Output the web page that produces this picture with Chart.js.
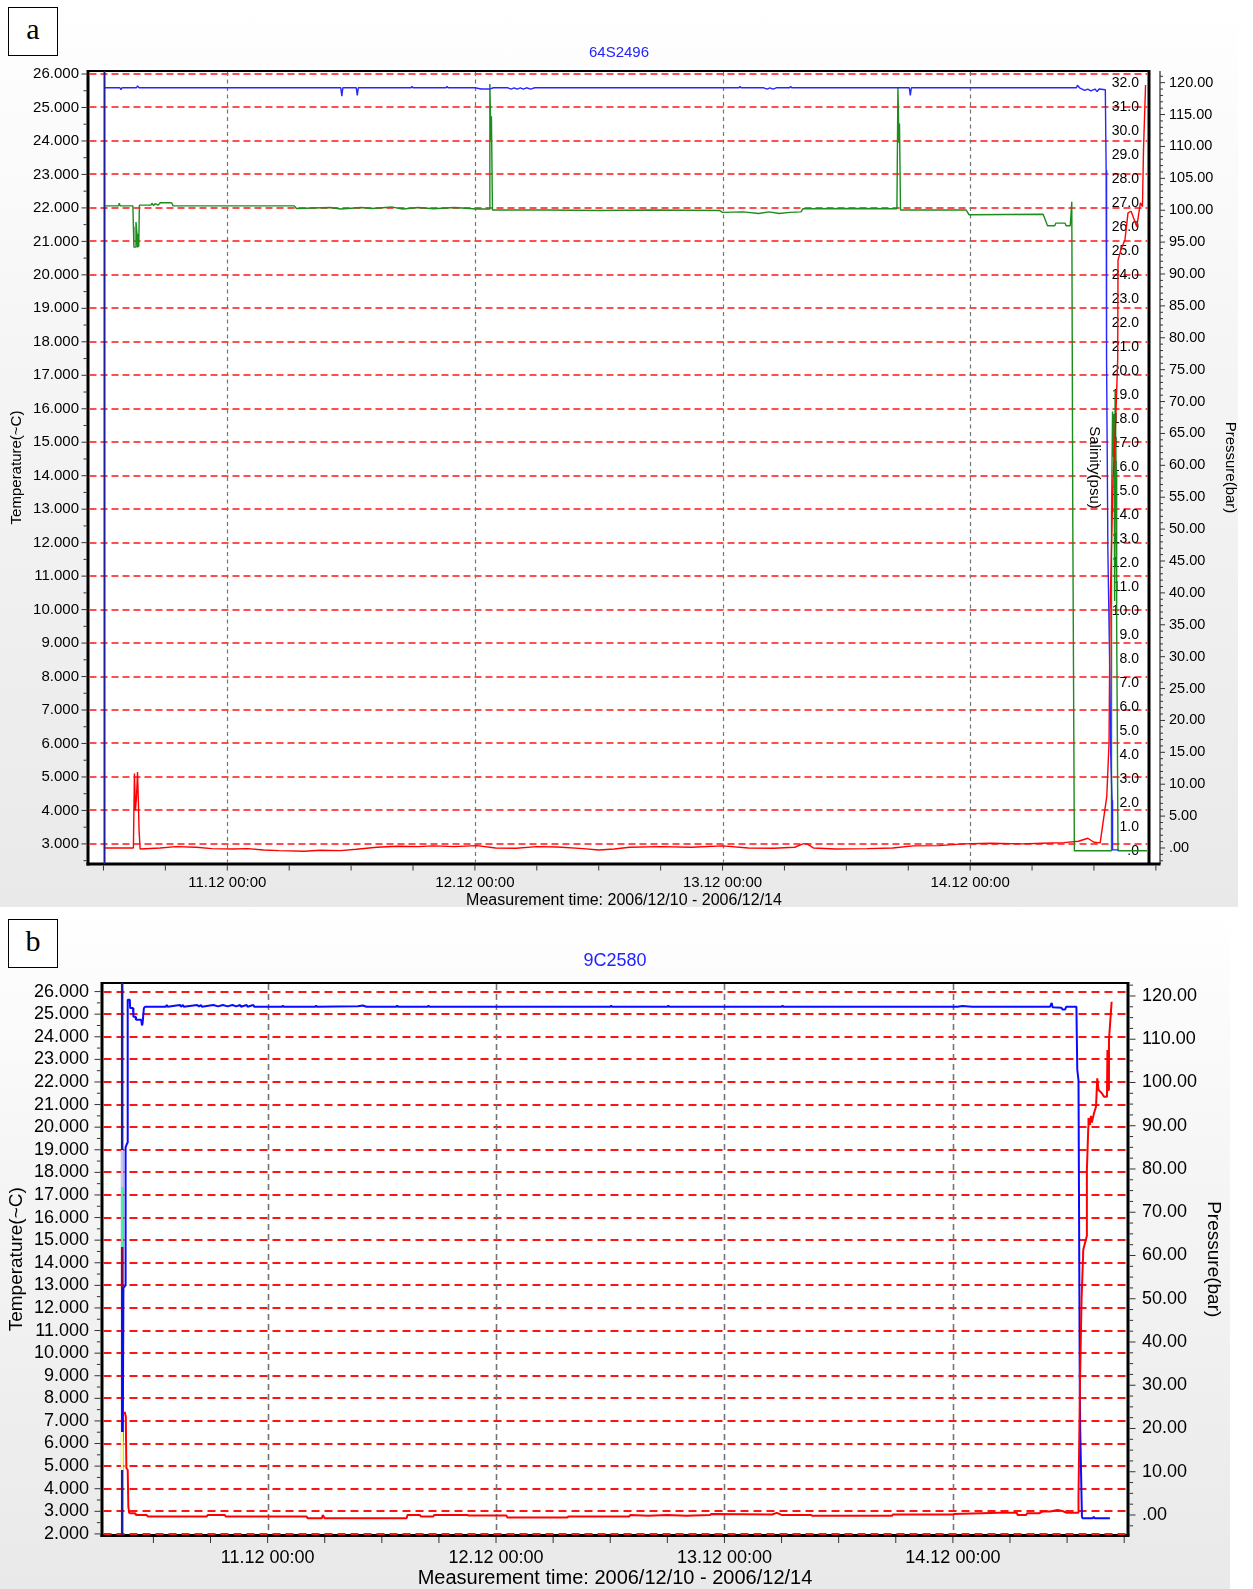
<!DOCTYPE html>
<html>
<head>
<meta charset="utf-8">
<title>64S2496 / 9C2580</title>
<script src="https://cdn.jsdelivr.net/npm/chart.js@4.4.1/dist/chart.umd.min.js"></script>
<style>
  html, body { margin: 0; padding: 0; background: #fff; }
  body { width: 1253px; height: 1589px; position: relative; overflow: hidden; }
  canvas { position: absolute; left: 0; background: linear-gradient(#ffffff 0%, #f5f5f5 40%, #e9e9e9 100%); }
  #chartA { top: 0; }
  #chartB { top: 907px; }
  .tag {
    position: absolute; left: 8px; width: 48px; height: 47px;
    border: 1.5px solid #000; background: #fff;
    font: 30px "Liberation Serif", "Times New Roman", serif;
    text-align: center; line-height: 42px;
  }
</style>
</head>
<body>
<canvas id="chartA" width="1238" height="907"></canvas>
<canvas id="chartB" width="1230" height="682"></canvas>
<div class="tag" style="top:7px">a</div>
<div class="tag" style="top:919px">b</div>
<script>
// time axis: hours counted from 10.12 00:00
const dayTicks = [24, 48, 72, 96];
const dayLabels = ['11.12 00:00', '12.12 00:00', '13.12 00:00', '14.12 00:00'];
const sixHourTicks = range(12, 114, 6);

// ---- logger 64S2496 : [hour, value] ----
const aStartHour = 12.1;
const aTemp = [
  [12.15, 2.88], [14.9, 2.88], [15.0, 5.1], [15.1, 4.0], [15.2, 4.4], [15.3, 5.15], [15.38, 4.3],
  [15.45, 3.4], [15.55, 2.85], [17.5, 2.88], [19, 2.92], [21, 2.9], [22.5, 2.86], [24.5, 2.85],
  [26, 2.86], [27.5, 2.82], [29, 2.8], [31.5, 2.78], [33, 2.81], [35, 2.8], [36.5, 2.84],
  [38.5, 2.9], [40.5, 2.93], [42.5, 2.92], [44, 2.94], [46, 2.92], [48.2, 2.95], [50, 2.88],
  [52, 2.87], [54, 2.92], [56, 2.91], [58.5, 2.86], [60, 2.82], [61.5, 2.85], [63, 2.9],
  [66, 2.92], [69, 2.9], [72, 2.94], [74.5, 2.88], [77, 2.87], [79, 2.9], [79.8, 3.0],
  [80.2, 3.0], [80.8, 2.88], [83, 2.85], [86, 2.86], [88.5, 2.88], [90.5, 2.94], [93, 2.95],
  [95.3, 3.0], [98, 3.02], [101, 3.0], [103, 3.02], [105.1, 3.04], [106.5, 3.08], [107.4, 3.17],
  [108, 3.05], [108.6, 3.03], [109.24, 4.41], [109.46, 6.02], [109.56, 9.99], [109.85, 13.93],
  [110.05, 15.16], [110.3, 17.46], [110.33, 20.44], [110.6, 20.74], [111.0, 21.04], [111.3, 21.85],
  [111.6, 21.9], [112.15, 21.44], [112.5, 22.15], [112.7, 22.04], [112.8, 23.73], [113.0, 25.67]
];
const aPres = [
  [12.15, 119.2], [13.6, 119.2], [13.7, 118.9], [13.8, 119.2], [15.2, 119.2], [15.3, 119.5],
  [15.45, 119.2], [35.0, 119.2], [35.1, 117.9], [35.2, 119.2], [36.5, 119.2], [36.6, 118.0],
  [36.7, 119.2], [41.8, 119.2], [41.9, 119.4], [42.0, 119.2], [45.2, 119.2], [45.3, 119.4],
  [45.4, 119.2], [48.0, 119.2], [48.6, 119.0], [49.4, 119.0], [49.8, 119.2], [51.2, 119.2],
  [51.5, 119.0], [51.8, 119.2], [52.1, 119.0], [52.4, 119.2], [52.7, 119.0], [53.0, 119.2],
  [53.4, 119.0], [53.8, 119.2], [73.6, 119.2], [73.7, 119.4], [73.8, 119.2], [76.0, 119.2],
  [76.3, 119.0], [76.6, 119.2], [76.9, 119.0], [77.2, 119.2], [78.5, 119.2], [78.6, 119.4],
  [78.7, 119.2], [90.1, 119.2], [90.2, 118.0], [90.3, 119.2], [106.3, 119.2], [106.4, 119.6],
  [106.6, 119.2], [107.1, 118.8], [107.4, 119.0], [107.7, 118.7], [108.1, 119.0], [108.3, 118.6],
  [108.5, 119.0], [109.1, 118.9], [109.18, 106.3], [109.22, 77], [109.35, 46.4], [109.55, 26],
  [109.62, 15], [109.75, 7.5], [109.8, -0.3], [110.4, -0.3]
];
const aSal = [
  [12.15, 26.87], [13.45, 26.87], [13.53, 26.98], [13.62, 26.87], [14.85, 26.87], [14.9, 26.0],
  [14.95, 25.15], [15.1, 25.15], [15.15, 26.2], [15.25, 25.7], [15.3, 25.15], [15.42, 25.2],
  [15.48, 26.9], [16.6, 26.9], [16.7, 26.98], [16.85, 26.88], [17.0, 26.96], [17.3, 26.9],
  [17.5, 27.0], [18.6, 27.0], [18.75, 26.87], [30.5, 26.87], [30.7, 26.76], [34, 26.8],
  [35, 26.74], [37, 26.8], [38, 26.76], [40, 26.82], [41, 26.74], [42.5, 26.8], [44, 26.75],
  [46, 26.8], [48.2, 26.74], [49.4, 26.74], [49.45, 31.95], [49.55, 29.6], [49.6, 30.6],
  [49.7, 26.7], [55, 26.7], [60, 26.68], [65, 26.7], [71.7, 26.68], [72, 26.6], [74, 26.62],
  [75.5, 26.55], [76.5, 26.62], [77.5, 26.55], [78.5, 26.6], [79.6, 26.62], [79.8, 26.75],
  [85, 26.76], [88.9, 26.75], [89.0, 31.8], [89.1, 29.5], [89.15, 30.3], [89.25, 26.7],
  [95.6, 26.7], [95.9, 26.5], [103.07, 26.52], [103.5, 26.04], [104.2, 26.04], [104.3, 26.15],
  [105.2, 26.15], [105.3, 26.04], [105.7, 26.04], [105.85, 27.04], [105.95, 13.5], [106.1, 0],
  [109.66, 0], [109.7, 14], [109.8, 18.3], [109.9, 16.4], [109.95, 18.2], [110.0, 10.4],
  [110.05, 19.2], [110.15, 15.8], [110.2, 9.5], [110.33, 0], [113.14, 0]
];
const aTempTicks = range(3, 26, 1);
const aPresTicks = range(0, 120, 5);
const aSalTicks = range(0, 32, 1);

// ---- logger 9C2580 : [hour, value] ----
const bStartHour = 8.72;
const bTemp = [
  [8.98, 7.41], [9.1, 7.2], [9.16, 4.92], [9.3, 4.83], [9.37, 3.21], [9.45, 2.94], [9.54, 2.92],
  [10.07, 2.92], [10.15, 2.84], [11.3, 2.84], [11.4, 2.77], [17.6, 2.77], [17.7, 2.84], [19.5, 2.84],
  [19.6, 2.77], [28.1, 2.77], [28.2, 2.69], [29.7, 2.69], [29.8, 2.84], [30.0, 2.69], [38.6, 2.69],
  [38.7, 2.84], [40.0, 2.84], [40.1, 2.77], [41.4, 2.77], [41.5, 2.84], [45.0, 2.84], [45.1, 2.81],
  [49.1, 2.81], [49.2, 2.73], [55.5, 2.73], [55.6, 2.77], [62.0, 2.77], [62.1, 2.84], [64.0, 2.8],
  [66.0, 2.84], [68.0, 2.8], [70.5, 2.84], [70.6, 2.88], [77.0, 2.86], [77.5, 2.93], [78.0, 2.84],
  [81.1, 2.84], [81.2, 2.8], [89.6, 2.8], [89.7, 2.86], [96.0, 2.86], [96.1, 2.88], [100.9, 2.94],
  [102.7, 2.94], [102.8, 2.84], [103.7, 2.84], [103.8, 2.92], [105.1, 2.92], [105.4, 2.99],
  [106.2, 2.99], [107.0, 3.06], [107.6, 3.0], [107.9, 2.94], [109.18, 2.94], [109.2, 3.65],
  [109.36, 8.8], [109.52, 12.35], [109.7, 14.57], [110.06, 15.16], [110.08, 18.1], [110.23, 20.02],
  [110.25, 20.41], [110.4, 20.1], [110.51, 20.5], [110.6, 20.2], [110.83, 20.63], [111.04, 20.91],
  [111.17, 22.16], [111.3, 21.65], [111.63, 21.51], [111.88, 21.35], [112.19, 21.35], [112.24, 23.42],
  [112.3, 21.65], [112.4, 23.86], [112.5, 24.45], [112.68, 25.55]
];
const bPres = [
  [8.78, 17], [8.85, 52.5], [9.03, 53], [9.08, 85], [9.25, 86], [9.3, 119.1], [9.52, 119.1],
  [9.56, 117.2], [9.86, 117.2], [9.9, 115.2], [10.12, 115.2], [10.17, 114.5], [10.72, 114.5],
  [10.8, 113.2], [10.86, 113.6], [11.0, 117.2], [11.12, 117.5], [13.3, 117.5], [13.4, 117.9],
  [13.5, 117.5], [14.8, 117.9], [14.9, 117.5], [15.1, 117.9], [15.2, 117.5], [16.6, 117.9],
  [16.8, 117.6], [17.0, 117.9], [17.1, 117.5], [18.3, 117.9], [18.8, 117.6], [19.3, 117.9],
  [19.8, 117.6], [20.3, 117.9], [20.7, 117.6], [21.1, 117.9], [21.2, 117.5], [21.8, 117.9],
  [21.9, 117.5], [22.5, 117.9], [22.6, 117.5], [25.5, 117.5], [25.6, 117.8], [25.7, 117.5],
  [29.0, 117.5], [29.1, 117.8], [29.2, 117.5], [33.5, 117.6], [34.0, 117.8], [34.4, 117.5],
  [37.5, 117.5], [37.6, 117.8], [37.7, 117.5], [40.8, 117.5], [40.9, 117.8], [41.0, 117.5],
  [60.0, 117.5], [60.1, 117.8], [60.2, 117.5], [66.0, 117.5], [66.1, 117.8], [66.2, 117.5],
  [78.0, 117.5], [78.1, 117.8], [78.2, 117.5], [96.5, 117.5], [97.0, 117.7], [98.0, 117.5],
  [106.2, 117.5], [106.38, 118.4], [106.48, 117.4], [107.4, 117.3], [107.5, 116.9], [107.8, 116.9],
  [107.9, 117.5], [108.98, 117.5], [109.07, 103.0], [109.2, 100.5], [109.33, 31], [109.38, 19.7],
  [109.56, -0.4], [109.62, -0.75], [110.7, -0.75], [110.8, -0.4], [110.9, -0.75], [112.5, -0.75]
];
// short traces drawn on the start line (temperature scale)
const bTraceTop = [18.99, 17.35, 14.70, 6.51];
const bTraceBottom = [17.35, 14.70, 12.88, 4.83];
const bTempTicks = range(2, 26, 1);
const bPresTicks = range(0, 120, 10);

const FONT = '"Liberation Sans", Arial, sans-serif';
const INK = '#000';
Chart.defaults.font.family = FONT;
Chart.defaults.color = INK;

function range(from, to, step) {
  const out = [];
  const n = Math.round((to - from) / step);
  for (let i = 0; i <= n; i++) out.push(+(from + i * step).toFixed(4));
  return out;
}

function series(pairs, color, axis, width) {
  return {
    data: pairs.map(([x, y]) => ({ x, y })),
    borderColor: color, borderWidth: width, yAxisID: axis,
    pointRadius: 0, tension: 0, fill: false, borderJoinStyle: 'bevel'
  };
}

// vertical stroke at one time, between two values of an axis
function stroke(hour, from, to, color, axis, width) {
  return series([[hour, from], [hour, to]], color, axis, width);
}

function seg(ctx, x1, y1, x2, y2, w) {
  ctx.lineWidth = w;
  ctx.beginPath();
  ctx.moveTo(x1, y1);
  ctx.lineTo(x2, y2);
  ctx.stroke();
}

// frame, tick marks and dashed grid (drawn under the data lines)
function framePlugin(st) {
  return {
    id: 'frame',
    beforeDraw(chart) {
      const { ctx, chartArea: a } = chart;
      ctx.save();
      ctx.fillStyle = '#fff';
      ctx.fillRect(a.left, a.top, a.right - a.left, a.bottom - a.top);
      ctx.restore();
    },
    beforeDatasetsDraw(chart) {
      const { ctx, chartArea: a, scales } = chart;
      const x = scales.x, yT = scales.temp, yP = scales.pres;
      const ew = st.edgeWidth;
      const edge = a.right - st.gap;
      ctx.save();

      ctx.strokeStyle = '#000';
      seg(ctx, a.left, a.top, edge, a.top, st.topWidth);
      seg(ctx, a.left, a.top - 1, a.left, a.bottom + ew / 2, ew);
      seg(ctx, a.left - ew / 2, a.bottom, a.right + (st.gap ? 0.5 : ew / 2), a.bottom, ew);
      seg(ctx, edge, a.top - 1, edge, a.bottom, ew);
      if (st.gap) seg(ctx, a.right, a.top, a.right, a.bottom, 1);

      ctx.strokeStyle = '#333';
      const lx = a.left - ew / 2;
      range(st.tempMinorFrom, st.tempMinorTo, 0.5).forEach(v => {
        const y = yT.getPixelForValue(v);
        const len = Number.isInteger(v) ? st.tickLen : st.tickLen * 0.6;
        seg(ctx, lx - len, y, lx, y, 1);
      });
      const rx = st.gap ? a.right : a.right + ew / 2;
      range(st.presMinorFrom, st.presMinorTo, st.presMinor).forEach(v => {
        const y = yP.getPixelForValue(v);
        const len = v % st.presMajor === 0 ? st.tickLen : st.tickLen * 0.6;
        seg(ctx, rx, y, rx + len, y, 1);
      });
      const by = a.bottom + ew / 2;
      sixHourTicks.forEach(v => {
        const px = x.getPixelForValue(v);
        if (px > a.left && px < a.right) seg(ctx, px, by, px, by + st.tickLen, 1);
      });

      ctx.setLineDash(st.hDash);
      ctx.strokeStyle = '#ff1414';
      st.tempTicks.forEach(v => {
        const y = Math.round(yT.getPixelForValue(v));
        seg(ctx, a.left + ew / 2, y, edge - ew / 2, y, st.gridWidth);
      });
      ctx.setLineDash(st.vDash);
      ctx.strokeStyle = '#747474';
      dayTicks.forEach(v => {
        const px = Math.round(x.getPixelForValue(v)) + 0.5;
        seg(ctx, px, a.top + 1, px, a.bottom - ew / 2, st.vWidth);
      });
      ctx.setLineDash([]);

      // salinity scale sits inside the box, left of its right edge
      if (st.sal) {
        const yS = scales.sal;
        ctx.fillStyle = INK;
        ctx.font = st.sal.size + 'px ' + FONT;
        ctx.textAlign = 'right';
        ctx.textBaseline = 'middle';
        st.sal.ticks.forEach(v => {
          ctx.fillText(v === 0 ? '.0' : v.toFixed(1), edge - st.sal.pad, yS.getPixelForValue(v));
        });
        ctx.save();
        ctx.translate(edge - st.sal.titleOffset, (a.top + a.bottom) / 2);
        ctx.rotate(Math.PI / 2);
        ctx.textAlign = 'center';
        ctx.font = st.sal.titleSize + 'px ' + FONT;
        ctx.fillText('Salinity(psu)', 0, 0);
        ctx.restore();
      }
      ctx.restore();
    }
  };
}

function buildChart(id, c) {
  const scales = {
    x: {
      type: 'linear', position: 'bottom', min: c.xMin, max: c.xMax,
      grid: { display: false, drawTicks: false }, border: { display: false },
      afterBuildTicks: ax => { ax.ticks = dayTicks.map(v => ({ value: v })); },
      ticks: {
        callback: v => dayLabels[dayTicks.indexOf(v)], autoSkip: false, maxRotation: 0,
        font: { size: c.xLabelSize }, padding: c.xPad, color: INK
      },
      title: {
        display: true, text: 'Measurement time: 2006/12/10 - 2006/12/14', color: INK,
        font: { size: c.xTitleSize, lineHeight: c.xTitleLine }, padding: { top: 0, bottom: c.xTitlePad }
      },
      afterFit: ax => { ax.height = c.xHeight; }
    },
    temp: {
      type: 'linear', axis: 'y', position: 'left', min: c.tempMin, max: c.tempMax,
      grid: { display: false, drawTicks: false }, border: { display: false },
      afterBuildTicks: ax => { ax.ticks = c.tempTicks.map(v => ({ value: v })); },
      ticks: {
        callback: v => v.toFixed(3), autoSkip: false,
        font: { size: c.leftLabelSize }, padding: c.leftPad, color: INK
      },
      title: {
        display: true, text: 'Temperature(~C)', color: INK,
        font: { size: c.sideTitleSize, lineHeight: 1 }, padding: { top: c.leftTitlePad, bottom: 0 }
      },
      afterFit: ax => { ax.width = c.leftWidth; }
    },
    pres: {
      type: 'linear', axis: 'y', position: 'right', min: c.presMin, max: c.presMax,
      grid: { display: false, drawTicks: false }, border: { display: false },
      afterBuildTicks: ax => { ax.ticks = c.presTicks.map(v => ({ value: v })); },
      ticks: {
        callback: v => (v === 0 ? '.00' : v.toFixed(2)), autoSkip: false,
        font: { size: c.rightLabelSize }, padding: c.rightPad, color: INK
      },
      title: {
        display: true, text: 'Pressure(bar)', color: INK,
        font: { size: c.sideTitleSize, lineHeight: 1 }, padding: { top: c.rightTitlePad, bottom: 0 }
      },
      afterFit: ax => { ax.width = c.rightWidth; }
    }
  };
  if (c.salMin !== undefined) {
    scales.sal = { type: 'linear', axis: 'y', position: 'right', display: false, min: c.salMin, max: c.salMax };
  }
  return new Chart(document.getElementById(id), {
    type: 'line',
    data: { datasets: c.datasets },
    options: {
      responsive: false,
      animation: false,
      events: [],
      devicePixelRatio: 1,
      layout: { padding: 0 },
      plugins: {
        legend: { display: false },
        tooltip: { enabled: false },
        title: {
          display: true, text: c.title, color: '#2323ff',
          font: { size: c.titleSize, weight: 'normal', lineHeight: 1.2 }, padding: c.titlePad
        }
      },
      scales
    },
    plugins: [framePlugin(c.style)]
  });
}

// panel a
buildChart('chartA', {
  title: '64S2496', titleSize: 15, titlePad: { top: 43.5, bottom: 9.5 },
  xMin: 10.5, xMax: 114.4, xHeight: 43, xLabelSize: 15, xPad: 10, xTitleSize: 16, xTitleLine: 0.75, xTitlePad: 0,
  tempMin: 2.40, tempMax: 26.09, tempTicks: aTempTicks,
  leftWidth: 88, leftPad: 9, leftLabelSize: 15, leftTitlePad: 9.5,
  presMin: -2.51, presMax: 121.83, presTicks: aPresTicks,
  rightWidth: 78, rightPad: 9, rightLabelSize: 14.5, rightTitlePad: 0,
  sideTitleSize: 15,
  salMin: -0.554, salMax: 32.49,
  datasets: [
    series(aTemp, '#ff0000', 'temp', 1.4),
    series(aPres, '#2626ff', 'pres', 1.4),
    series(aSal, '#1c8c1c', 'sal', 1.4),
    stroke(aStartHour, 2.40, 26.09, '#1e1e96', 'temp', 2)
  ],
  style: {
    gap: 11, edgeWidth: 3, topWidth: 2, tickLen: 5,
    tempTicks: aTempTicks, tempMinorFrom: 2.5, tempMinorTo: 26,
    presMinorFrom: -2, presMinorTo: 121, presMinor: 1, presMajor: 5,
    hDash: [7, 4], gridWidth: 1.6, vDash: [4, 3.5], vWidth: 1.2,
    sal: { ticks: aSalTicks, size: 14, pad: 10, titleOffset: 55, titleSize: 15 }
  }
});

// panel b
const traceColors = ['#c6c6f2', '#4ced9f', '#8a0b3c', '#ffff8c'];
buildChart('chartB', {
  title: '9C2580', titleSize: 18, titlePad: { top: 43, bottom: 11.4 },
  xMin: 6.6, xMax: 114.4, xHeight: 53.5, xLabelSize: 18, xPad: 11.5, xTitleSize: 20, xTitleLine: 1, xTitlePad: 1,
  tempMin: 1.93, tempMax: 26.38, tempTicks: bTempTicks,
  leftWidth: 102, leftPad: 13, leftLabelSize: 18, leftTitlePad: 7.5,
  presMin: -4.74, presMax: 123.0, presTicks: bPresTicks,
  rightWidth: 102, rightPad: 14, rightLabelSize: 18, rightTitlePad: 7,
  sideTitleSize: 19,
  datasets: [
    series(bTemp, '#ff0000', 'temp', 2),
    ...bTraceTop.map((top, i) => stroke(bStartHour, top, bTraceBottom[i], traceColors[i], 'temp', 2.5)),
    series(bPres, '#0a0aff', 'pres', 2),
    stroke(bStartHour, 1.93, 26.38, '#1e1e96', 'temp', 2.5)
  ],
  style: {
    gap: 0, edgeWidth: 3, topWidth: 2, tickLen: 6,
    tempTicks: bTempTicks, tempMinorFrom: 2, tempMinorTo: 26,
    presMinorFrom: -2.5, presMinorTo: 122.5, presMinor: 2.5, presMajor: 10,
    hDash: [8, 5], gridWidth: 2, vDash: [6, 4], vWidth: 1.6,
    sal: null
  }
});
</script>
</body>
</html>
